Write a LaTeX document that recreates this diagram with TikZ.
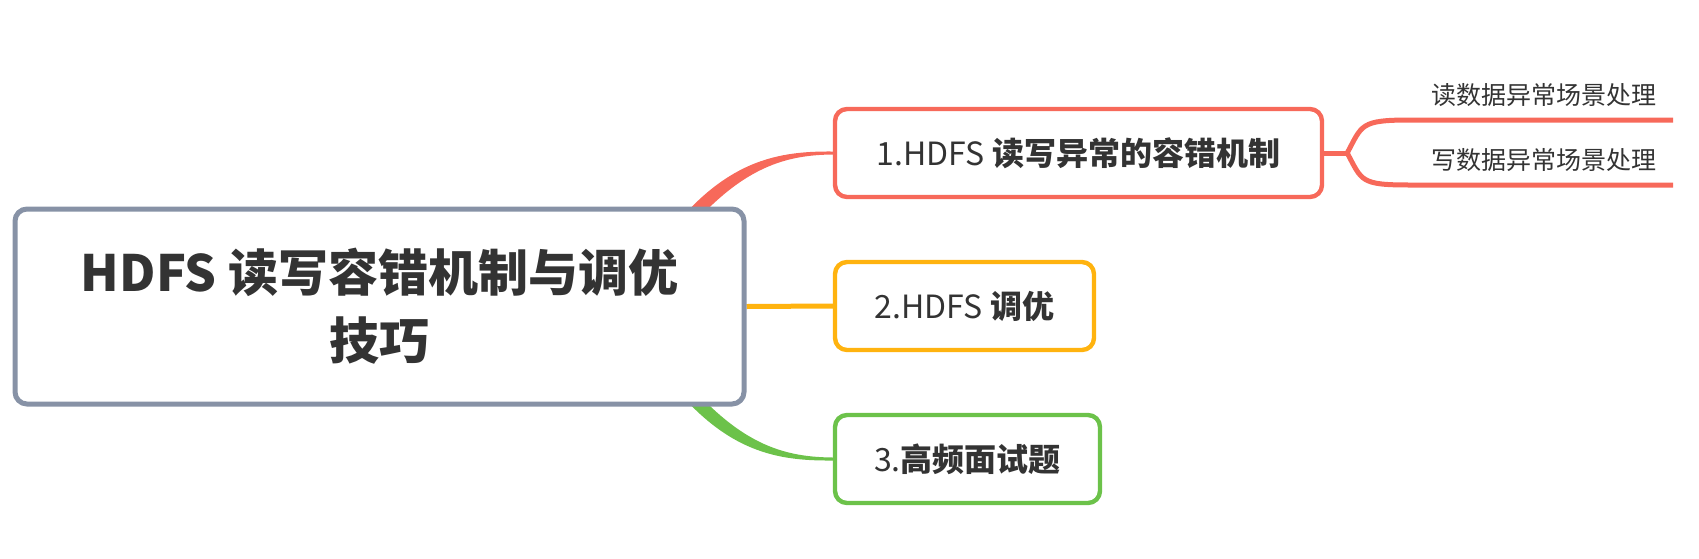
\documentclass[tikz,border=0pt]{standalone}
\usepackage{fontspec}
\setmainfont{Noto Sans CJK SC}
\usetikzlibrary{calc,backgrounds}

\definecolor{txt}{HTML}{333333}
\definecolor{rootgray}{HTML}{8792A6}
\definecolor{brred}{HTML}{F7695A}
\definecolor{brorange}{HTML}{FFB30F}
\definecolor{brgreen}{HTML}{6CC24A}

\tikzset{
  rootbox/.style={draw=rootgray, line width=2.5pt, rounded corners=6pt, fill=white, text=txt,
    minimum width=364.5pt, minimum height=97.5pt, align=center, font=\fontsize{25}{34}\selectfont\bfseries},
  topic/.style={draw, line width=2.2pt, rounded corners=6pt, fill=white, text=txt,
    minimum height=44pt, font=\fontsize{16}{19}\selectfont},
  leaf/.style={text=txt, inner sep=0pt, font=\fontsize{12.5}{15}\selectfont},
}

\begin{document}
\begin{tikzpicture}[x=0.5pt,y=-0.5pt]
\useasboundingbox (0,0) rectangle (1699,558);
\node[rootbox] (root) at (379.5,306.5) {HDFS 读写容错机制与调优\\技巧};
\node[topic, draw=brred, minimum width=243.5pt] (n1) at (1078.5,153) {1.HDFS \textbf{读写异常的容错机制}};
\node[topic, draw=brorange, minimum width=129.5pt] (n2) at (964.5,306) {2.HDFS \textbf{调优}};
\node[topic, draw=brgreen, minimum width=132.5pt] (n3) at (967.5,459) {3.\textbf{高频面试题}};
\node[leaf, anchor=east] (l1) at (1657,95) {读数据异常场景处理};
\node[leaf, anchor=east] (l2) at (1657,160) {写数据异常场景处理};
\coordinate (fork) at ($(n1.east)+(23,0)$);
\coordinate (r1a) at (1410,120); \coordinate (r1b) at (1673,120);
\coordinate (r2a) at (1410,185); \coordinate (r2b) at (1673,185);
% main branches
\begin{scope}[on background layer]
\fill[brred] ($(root.north east)+(-95,50)$) .. controls ($(root.north east)+(-30,-45)$) and ($(n1.west)+(-60,-2)$) .. ($(n1.west)+(0,-1.5)$)
  -- ($(n1.west)+(0,1.5)$) .. controls ($(n1.west)+(-55,2)$) and ($(root.north east)+(-15,-35)$) .. ($(root.north east)+(-80,50)$) -- cycle;
\fill[brgreen] ($(root.south east)+(-95,-50)$) .. controls ($(root.south east)+(-30,45)$) and ($(n3.west)+(-60,2)$) .. ($(n3.west)+(0,1.5)$)
  -- ($(n3.west)+(0,-1.5)$) .. controls ($(n3.west)+(-55,-2)$) and ($(root.south east)+(-15,35)$) .. ($(root.south east)+(-80,-50)$) -- cycle;
\draw[brorange, line width=2.5pt] (root.east) -- (n2.west);
\end{scope}
% sub branches
\draw[brred, line width=2.5pt] (n1.east) -- (fork);
\draw[brred, line width=2.5pt] (fork) .. controls +(15,-28) and +(-50,0) .. (r1a) -- (r1b);
\draw[brred, line width=2.5pt] (fork) .. controls +(15,28) and +(-50,0) .. (r2a) -- (r2b);
\end{tikzpicture}
\end{document}
